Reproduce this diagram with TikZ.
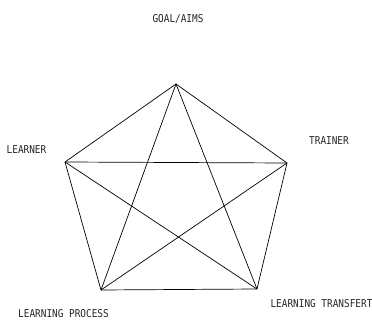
\documentclass[tikz,border=0pt]{standalone}
\usepackage{fontspec}
\newfontfamily\lblfont[FakeStretch=0.87]{DejaVu Sans Mono}
\begin{document}
\begin{tikzpicture}[x=1pt,y=-1pt,
  lbl/.style={inner sep=0pt, font=\lblfont\fontsize{10.8}{12}\selectfont, text=black!85},
  edge/.style={draw=black, line width=0.7pt}]
\useasboundingbox (0,0) rectangle (372,320);
\fill[white] (0,0) rectangle (372,320);
% vertices
\coordinate (T) at (176,84);
\coordinate (L) at (65,162);
\coordinate (R) at (287,163);
\coordinate (BL) at (101,290);
\coordinate (BR) at (257,289);
% labels
\node[lbl] (goal) at (178,19) {GOAL/AIMS};
\node[lbl] (learner) at (26.5,150) {LEARNER};
\node[lbl] (trainer) at (329,141) {TRAINER};
\node[lbl] (process) at (63.5,314) {LEARNING PROCESS};
\node[lbl] (transfert) at (321.5,304) {LEARNING TRANSFERT};
% pentagon
\draw[edge] (T) -- (L);
\draw[edge] (T) -- (R);
\draw[edge] (L) -- (BL);
\draw[edge] (R) -- (BR);
\draw[edge] (BL) -- (BR);
% diagonals
\draw[edge] (L) -- (R);
\draw[edge] (T) -- (BL);
\draw[edge] (T) -- (BR);
\draw[edge] (L) -- (BR);
\draw[edge] (R) -- (BL);
\end{tikzpicture}
\end{document}
